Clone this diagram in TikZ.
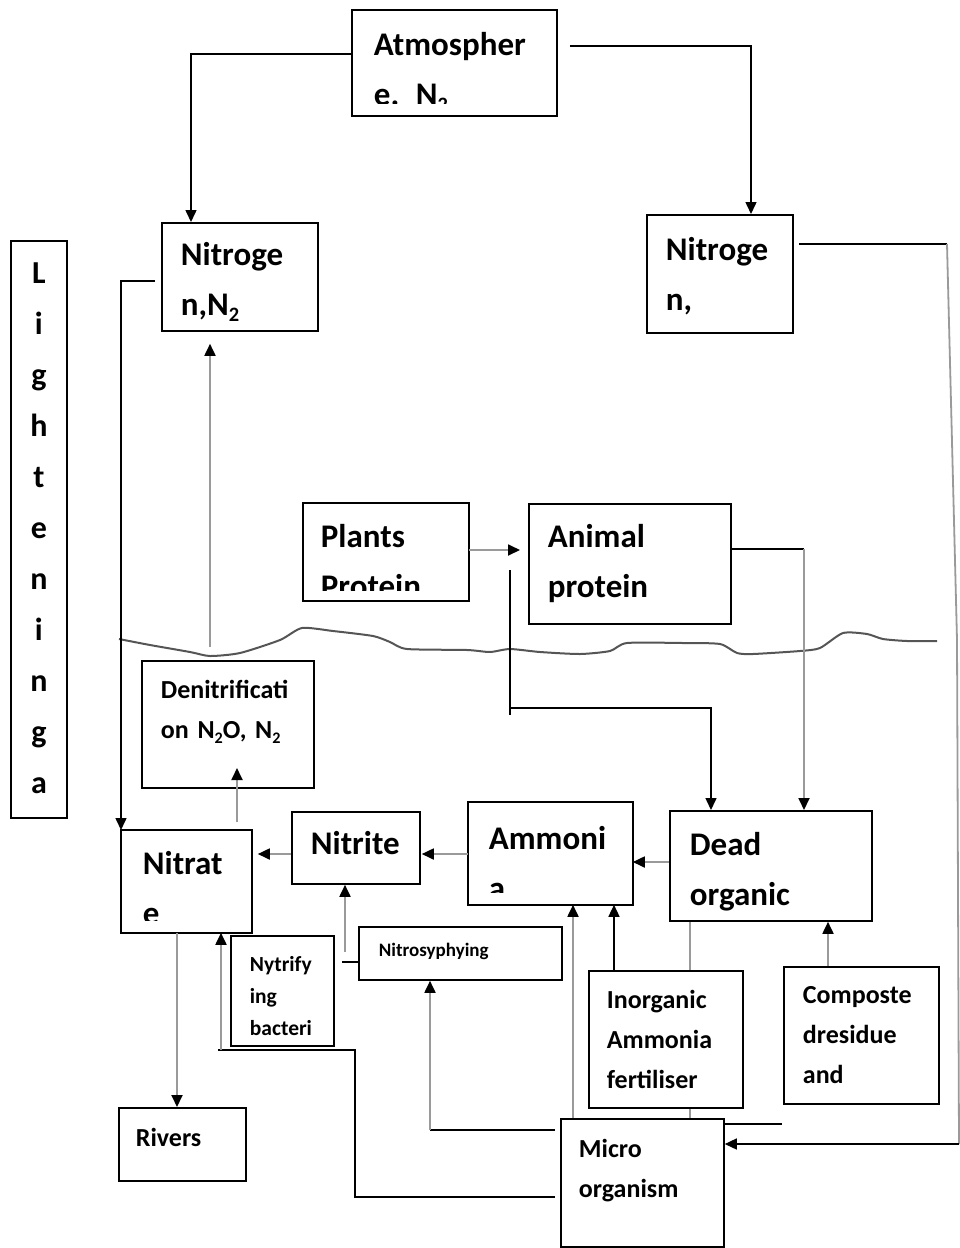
\documentclass[tikz,border=0pt]{standalone}
\usepackage{fontspec}
\usepackage{graphicx}
\setmainfont{Carlito}
\usetikzlibrary{arrows.meta}
\definecolor{linegray}{HTML}{9A9A9A}
\definecolor{wavegray}{HTML}{555555}
\hyphenpenalty=10000
\exhyphenpenalty=10000
\newcommand{\subtwo}{\raisebox{-0.18em}{\scalebox{0.62}{2}}}

\begin{document}
\begin{tikzpicture}[
  x=1pt, y=-1pt,
  box/.style={draw, line width=1.8pt, anchor=north west, inner ysep=0pt, align=left, font=\fontsize{33}{50}\selectfont\bfseries},
  cut/.style={draw=none},
  mid/.style={font=\fontsize{26}{40}\selectfont\bfseries},
  sml/.style={font=\fontsize{21.5}{32}\selectfont\bfseries},
  tny/.style={font=\fontsize{19}{28}\selectfont\bfseries},
  blk/.style={line width=1.5pt},
  gry/.style={draw=linegray, line width=1.8pt},
  tip/.style={-{Triangle[length=12pt, width=11pt, color=black]}}
]
\useasboundingbox (0,0) rectangle (960,1248);

% boxes (the cut ones are clipped, then framed)
\begin{scope}
  \clip (340,0) rectangle (570,103);
  \node[box, cut, inner xsep=21pt, text width=161pt, text height=45pt, text depth=59pt] (atm) at (352,10) {Atmospher\\e. N\subtwo};
\end{scope}
\draw[line width=1.8pt] (atm.north west) rectangle (atm.south east);

\node[box, inner xsep=19pt, text width=118pt, text height=43pt, text depth=65pt] (n2L) at (161,222) {Nitroge\\n,N\subtwo};
\node[box, inner xsep=19pt, text width=108pt, text height=46pt, text depth=72pt] (n2R) at (646,214) {Nitroge\\n,};
\node[box, inner xsep=0pt, text width=56pt, align=center, text height=43pt, text depth=534pt, font=\fontsize{32}{51}\selectfont\bfseries] (light) at (10,240) {L\\i\\g\\h\\t\\e\\n\\i\\n\\g\\a};

\begin{scope}
  \clip (290,490) rectangle (480,590);
  \node[box, cut, inner xsep=17pt, text width=130pt, text height=44pt, text depth=52pt] (plant) at (303,503) {Plants\\Protein};
\end{scope}
\draw[line width=1.8pt] (plant.north west) rectangle (plant.south east);

\node[box, inner xsep=19pt, text width=164pt, text height=44pt, text depth=76pt] (animal) at (528,503) {Animal\\protein};
\node[box, mid, inner xsep=19pt, text width=134pt, text height=38pt, text depth=89pt] (denit) at (141,660) {Denitrificati\\on N\subtwo O, N\subtwo};
\node[box, inner xsep=19pt, text width=90pt, text height=43pt, text depth=29pt] (nitrite) at (291,811) {Nitrite};

\begin{scope}
  \clip (100,800) rectangle (270,920);
  \node[box, cut, inner xsep=21pt, text width=87pt, text height=44pt, text depth=57pt] (nitrate) at (121,830) {Nitrat\\e};
\end{scope}
\draw[line width=1.8pt] (nitrate.north west) rectangle (nitrate.south east);

\begin{scope}
  \clip (450,790) rectangle (650,892);
  \node[box, cut, inner xsep=20pt, text width=123pt, text height=47pt, text depth=54pt] (ammonia) at (468,802) {Ammoni\\a};
\end{scope}
\draw[line width=1.8pt] (ammonia.north west) rectangle (ammonia.south east);

\node[box, inner xsep=20pt, text width=162pt, text height=45pt, text depth=65pt] (dead) at (669,810) {Dead\\organic};
\node[box, sml, inner xsep=19pt, text width=65pt, text height=36pt, text depth=74pt] (nytrify) at (230,935) {Nytrify\\ing\\bacteri};
\node[box, tny, inner xsep=20pt, text width=163pt, text height=30pt, text depth=23pt] (nitrosyph) at (358,926) {Nitrosyphying};
\node[box, mid, inner xsep=18pt, text width=118pt, text height=38pt, text depth=99pt] (inorg) at (588,970) {Inorganic\\Ammonia\\fertiliser};
\node[box, mid, inner xsep=19pt, text width=117pt, text height=37pt, text depth=100pt] (compost) at (783,966) {Composte\\dresidue\\and};
\node[box, mid, inner xsep=17pt, text width=93pt, text height=39pt, text depth=34pt] (rivers) at (118,1107) {Rivers};
\node[box, mid, inner xsep=18pt, text width=127pt, text height=39pt, text depth=89pt] (micro) at (560,1118) {Micro\\organism};

% soil surface
\draw[draw=wavegray, line width=2pt] plot[smooth, tension=0.4] coordinates {
  (119,639) (150,645) (190,652) (210,656) (240,653) (280,640) (302,628) (333,631)
  (373,636) (390,642) (407,649) (467,650) (490,652) (510,649) (540,652) (580,654)
  (610,651) (627,643) (683,643) (720,644) (737,653) (753,654) (800,651) (820,648)
  (843,633) (867,634) (883,639) (907,641) (937,641)};

% free ends
\coordinate (dn) at (210,647);
\coordinate (rt) at (947,244);
\coordinate (rb) at (959,1144);
\coordinate (ak) at (804,549);
\coordinate (pt) at (510,570);
\coordinate (ns) at (345,952);
\coordinate (mn) at (430,1130);
\coordinate (mo) at (221,1050);

% atmosphere
\draw[blk, tip] (atm.west |- 0,54) -| (191,0 |- n2L.north);
\draw[blk, tip, shorten <=13pt] (atm.east |- 0,46) -| (751,0 |- n2R.north);
\draw[blk, tip, shorten <=6pt] (n2L.west |- 0,281) -| (nitrate.north west);
\draw[blk, shorten <=5pt] (n2R.east |- rt) -- (rt);
\draw[gry] (rt) -- (957,640) -- (rb);
\draw[blk, tip] (rb) -- (micro.east |- rb);
\draw[blk] (micro.east |- 0,1124) -- ++(57,0);

% denitrification
\draw[gry, tip, shorten >=12pt] (dn) -- (dn |- n2L.south);
\draw[gry, tip, shorten <=8pt] (237,0 |- nitrate.north) -- ++(0,-62);

% proteins
\draw[gry, tip, shorten >=8pt] (plant.east |- 0,550) -- (animal.west |- 0,550);
\draw[blk] (animal.east |- ak) -- (ak);
\draw[gry, tip] (ak) -- (ak |- dead.north);
\draw[blk] (pt) -- ++(0,145);
\draw[blk, tip] (pt |- 0,708) -| (711,0 |- dead.north);

% nitrification chain
\draw[gry, tip] (dead.west |- 0,862) -- (ammonia.east |- 0,862);
\draw[gry, tip, shorten >=1pt] (ammonia.west |- 0,854) -- (nitrite.east |- 0,854);
\draw[gry, tip, shorten >=6pt] (nitrite.west |- 0,854) -- (nitrate.east |- 0,854);
\draw[gry, tip] (ns) -- (ns |- nitrite.south);
\draw[blk] (342,962) -- (nitrosyph.west |- 0,962);

% micro organism
\draw[blk, shorten <=5pt] (micro.west |- mn) -- (mn);
\draw[gry, tip] (mn) -- (mn |- nitrosyph.south);
\draw[blk, shorten <=5pt] (micro.west |- 0,1197) -| (355,1050) -- (218,1050);
\draw[gry, tip] (mo) -- (mo |- nitrate.south);
\draw[gry, tip] (573,0 |- micro.north) -- (573,0 |- ammonia.south);
\draw[blk, tip] (614,0 |- inorg.north) -- (614,0 |- ammonia.south);
\draw[gry] (690,0 |- dead.south) -- (690,0 |- inorg.north);
\draw[gry] (690,0 |- inorg.south) -- (690,0 |- micro.north);
\draw[gry, tip] (828,0 |- compost.north) -- (828,0 |- dead.south);
\draw[gry, tip] (177,0 |- nitrate.south) -- (177,0 |- rivers.north);
\end{tikzpicture}
\end{document}
